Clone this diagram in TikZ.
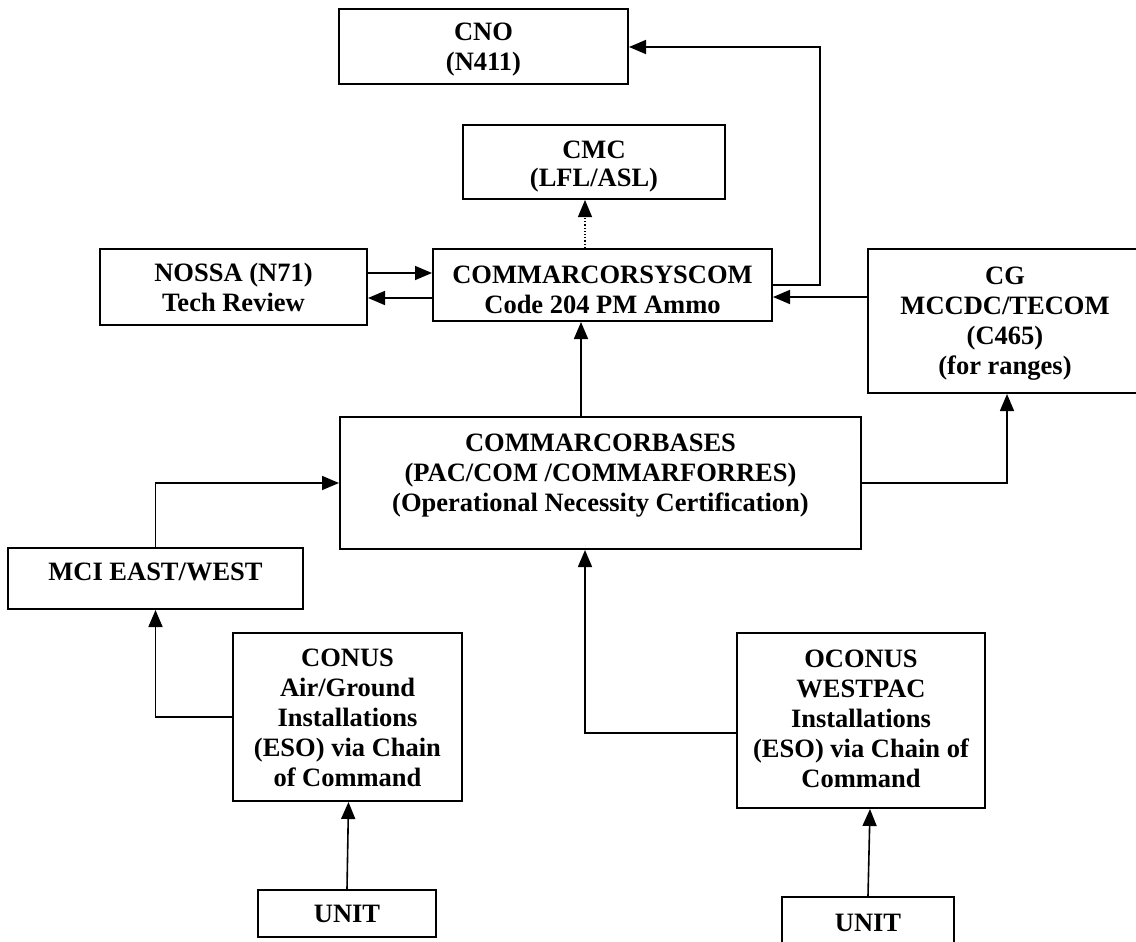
\documentclass[tikz,border=0pt]{standalone}
\usepackage{fontspec}
\setmainfont{Liberation Serif}
\usetikzlibrary{arrows.meta}
\begin{document}
\begin{tikzpicture}[x=1pt,y=-1pt,
  lbl/.style={inner sep=0pt, align=center, font=\bfseries\fontsize{26.5}{30}\selectfont},
  box/.style={draw, line width=2pt, inner sep=0pt},
  conn/.style={line width=1.6pt, -{Triangle[length=17pt,width=14pt]}}]
\useasboundingbox (0,0) rectangle (1136,942);
\fill[white] (0,0) rectangle (1136,942);

% boxes
\node[box, minimum width=289pt, minimum height=75pt] (cno) at (483.5,46.5) {};
\node[box, minimum width=262pt, minimum height=74pt] (cmc) at (594,162) {};
\node[box, minimum width=267pt, minimum height=76pt] (nossa) at (233.5,287) {};
\node[box, minimum width=339pt, minimum height=72pt] (sys) at (602.5,285) {};
\node[box, minimum width=274pt, minimum height=144pt] (cg) at (1005,321) {};
\node[box, minimum width=521pt, minimum height=132pt] (bases) at (600.5,483) {};
\node[box, minimum width=295pt, minimum height=61pt] (mci) at (155.5,578.5) {};
\node[box, minimum width=229pt, minimum height=168pt] (conus) at (347.5,717) {};
\node[box, minimum width=248pt, minimum height=175pt] (oconus) at (861,720.5) {};
\node[box, minimum width=178pt, minimum height=47pt] (unit1) at (347,913.5) {};
\node[box, minimum width=172pt, minimum height=47pt] (unit2) at (868,920.5) {};

% labels
\node[lbl] (cnotext) at (483.5,49.5) {CNO\\(N411)};
\node[lbl, font=\bfseries\fontsize{26.5}{28}\selectfont] (cmctext) at (594,167) {CMC\\(LFL/ASL)};
\node[lbl] (nossatext) at (233.5,287) {NOSSA (N71)\\Tech Review};
\node[lbl] (systext) at (602.5,289.5) {COMMARCORSYSCOM\\Code 204 PM Ammo};
\node[lbl] (cgtext) at (1005,324) {CG\\MCCDC/TECOM\\(C465)\\(for ranges)};
\node[lbl] (basestext) at (600.5,476) {COMMARCORBASES\\(PAC/COM /COMMARFORRES)\\(Operational Necessity Certification)};
\node[lbl] (mcitext) at (155.5,572) {MCI EAST/WEST};
\node[lbl] (conustext) at (347.5,718) {CONUS\\Air/Ground\\Installations\\(ESO) via Chain\\of Command};
\node[lbl] (oconustext) at (861,718.5) {OCONUS\\WESTPAC\\Installations\\(ESO) via Chain of\\Command};
\node[lbl] (unit1text) at (347,913.5) {UNIT};
\node[lbl] (unit2text) at (868,922.5) {UNIT};

% helper coordinates
\coordinate (c1) at (820,285);
\coordinate (c2) at (820,47);
\coordinate (d1) at (585,0);
\coordinate (n1) at (0,273);
\coordinate (n2) at (0,298);
\coordinate (g1) at (0,297);
\coordinate (b1) at (581,0);
\coordinate (b2) at (1007,483);
\coordinate (m1) at (155.5,483);
\coordinate (m2) at (155.5,717);
\coordinate (o1) at (585,733);
\coordinate (u1) at (348.5,0);
\coordinate (u2) at (870,0);

% connectors
\draw[conn] (sys.east |- c1) -- (c1) -- (c2) -- (cno.east |- c2);
\draw[conn, line width=1.2pt, dotted] (sys.north -| d1) -- (cmc.south -| d1);
\draw[conn] (nossa.east |- n1) -- (sys.west |- n1);
\draw[conn] (sys.west |- n2) -- (nossa.east |- n2);
\draw[conn] (cg.west |- g1) -- (sys.east |- g1);
\draw[conn] (bases.north -| b1) -- (sys.south -| b1);
\draw[conn] (bases.east |- b2) -- (b2) -- (cg.south -| b2);
\draw[conn] (mci.north) -- (m1) -- (bases.west |- m1);
\draw[conn] (conus.west) -- (m2) -- (mci.south);
\draw[conn] (oconus.west |- o1) -- (o1) -- (bases.south -| o1);
\draw[conn] (unit1.north) -- (conus.south -| u1);
\draw[conn] (unit2.north) -- (oconus.south -| u2);
\end{tikzpicture}
\end{document}
